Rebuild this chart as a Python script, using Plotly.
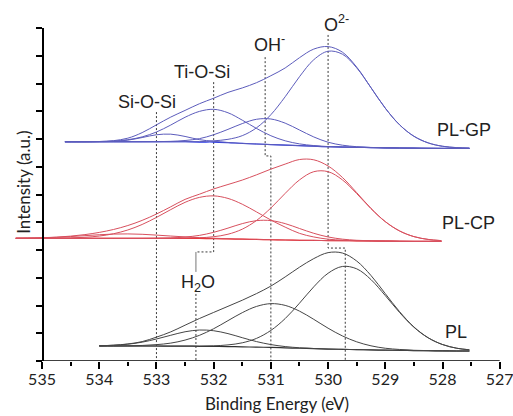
import plotly.graph_objects as go

# ---------------- PL-GP (blue) ----------------
GP_BE = [534.6, 534.25, 534.0, 533.75, 533.5, 533.25, 533.0, 532.75, 532.5, 532.25,
         532.0, 531.75, 531.5, 531.25, 531.0, 530.75, 530.5, 530.25, 530.0, 529.75,
         529.5, 529.25, 529.0, 528.75, 528.5, 528.25, 528.0, 527.75, 527.53]
GP_BASE = [7.90, 7.90, 7.90, 7.90, 7.90, 7.90, 7.90, 7.90, 7.90, 7.89,
           7.89, 7.87, 7.84, 7.82, 7.80, 7.78, 7.76, 7.74, 7.72, 7.71,
           7.70, 7.69, 7.68, 7.675, 7.67, 7.665, 7.66, 7.66, 7.66]
GP_SIOSI = [7.90, 7.90, 7.902, 7.915, 7.959, 8.052, 8.153, 8.174, 8.092, 7.977,
            7.916, 7.875, 7.84, 7.82, 7.80, 7.78, 7.76, 7.74, 7.72, 7.71,
            7.70, 7.69, 7.68, 7.675, 7.67, 7.665, 7.66, 7.66, 7.66]
GP_TIOSI = [7.90, 7.902, 7.909, 7.927, 7.975, 8.076, 8.252, 8.503, 8.783, 8.994,
            9.07, 8.946, 8.679, 8.379, 8.118, 7.935, 7.824, 7.763, 7.727, 7.712,
            7.70, 7.69, 7.68, 7.675, 7.67, 7.665, 7.66, 7.66, 7.66]
GP_OH = [7.90, 7.90, 7.90, 7.90, 7.90, 7.90, 7.904, 7.915, 7.946, 8.012,
         8.154, 8.347, 8.556, 8.711, 8.721, 8.571, 8.324, 8.074, 7.884, 7.777,
         7.723, 7.696, 7.681, 7.675, 7.67, 7.665, 7.66, 7.66, 7.66]
GP_O2 = [7.90, 7.90, 7.90, 7.90, 7.90, 7.90, 7.90, 7.90, 7.904, 7.904,
         7.934, 7.988, 8.12, 8.404, 8.876, 9.523, 10.244, 10.857, 11.163, 11.057,
         10.565, 9.848, 9.111, 8.511, 8.099, 7.859, 7.737, 7.687, 7.67]
GP_ENV = [7.90, 7.90, 7.91, 7.94, 8.03, 8.23, 8.51, 8.79, 9.03, 9.27,
          9.47, 9.68, 9.84, 10.03, 10.28, 10.56, 10.93, 11.24, 11.33, 11.13,
          10.59, 9.85, 9.11, 8.51, 8.10, 7.86, 7.74, 7.69, 7.67]

# ---------------- PL-CP (red) ----------------
CP_BE = [535.46, 535.25, 535.0, 534.75, 534.5, 534.25, 534.0, 533.75, 533.5, 533.25,
         533.0, 532.75, 532.5, 532.25, 532.0, 531.75, 531.5, 531.25, 531.0, 530.75,
         530.5, 530.25, 530.0, 529.75, 529.5, 529.25, 529.0, 528.75, 528.5, 528.25, 528.02]
CP_BASE = [4.42, 4.42, 4.42, 4.42, 4.42, 4.42, 4.42, 4.42, 4.42, 4.42,
           4.42, 4.42, 4.42, 4.415, 4.41, 4.40, 4.39, 4.38, 4.37, 4.36,
           4.35, 4.345, 4.34, 4.335, 4.33, 4.325, 4.32, 4.315, 4.31, 4.31, 4.31]
CP_SIOSI = [4.424, 4.428, 4.439, 4.457, 4.484, 4.517, 4.55, 4.574, 4.58, 4.566,
            4.537, 4.503, 4.472, 4.444, 4.424, 4.406, 4.392, 4.38, 4.37, 4.36,
            4.35, 4.345, 4.34, 4.335, 4.33, 4.325, 4.32, 4.315, 4.31, 4.31, 4.31]
CP_TIOSI = [4.42, 4.42, 4.422, 4.426, 4.436, 4.458, 4.503, 4.586, 4.722, 4.92,
            5.174, 5.456, 5.718, 5.895, 5.95, 5.859, 5.65, 5.371, 5.08, 4.824,
            4.60, 4.47, 4.39, 4.355, 4.338, 4.328, 4.322, 4.315, 4.31, 4.31, 4.31]
CP_OH = [4.42, 4.42, 4.42, 4.42, 4.42, 4.42, 4.42, 4.42, 4.42, 4.42,
         4.425, 4.436, 4.466, 4.526, 4.637, 4.789, 4.951, 5.058, 5.06, 4.951,
         4.775, 4.602, 4.47, 4.391, 4.35, 4.331, 4.322, 4.315, 4.31, 4.31, 4.31]
CP_O2 = [4.42, 4.42, 4.42, 4.42, 4.42, 4.42, 4.42, 4.42, 4.42, 4.42,
         4.42, 4.42, 4.428, 4.44, 4.479, 4.568, 4.751, 5.065, 5.514, 6.041,
         6.525, 6.822, 6.823, 6.527, 6.033, 5.489, 5.02, 4.686, 4.483, 4.381, 4.338]
CP_ENV = [4.424, 4.429, 4.441, 4.463, 4.50, 4.555, 4.633, 4.74, 4.882, 5.067,
          5.296, 5.557, 5.824, 6.01, 6.20, 6.36, 6.52, 6.71, 6.914, 7.096,
          7.26, 7.25, 7.027, 6.616, 6.067, 5.50, 5.024, 4.686, 4.483, 4.381, 4.338]

# ---------------- PL (black) ----------------
PL_BE = [534.0, 533.75, 533.5, 533.25, 533.0, 532.75, 532.5, 532.25, 532.0, 531.75,
         531.5, 531.25, 531.0, 530.75, 530.5, 530.25, 530.0, 529.75, 529.5, 529.25,
         529.0, 528.75, 528.5, 528.25, 528.0, 527.75, 527.53]
PL_BASE = [0.54, 0.54, 0.54, 0.54, 0.54, 0.535, 0.535, 0.53, 0.525, 0.52,
           0.51, 0.50, 0.49, 0.475, 0.46, 0.445, 0.43, 0.42, 0.41, 0.40,
           0.39, 0.385, 0.375, 0.37, 0.365, 0.36, 0.36]
PL_H2O = [0.549, 0.567, 0.606, 0.679, 0.793, 0.927, 1.053, 1.116, 1.091, 0.987,
          0.84, 0.699, 0.592, 0.52, 0.477, 0.45, 0.431, 0.42, 0.41, 0.40,
          0.39, 0.385, 0.375, 0.37, 0.365, 0.36, 0.36]
PL_OH = [0.541, 0.543, 0.548, 0.56, 0.59, 0.645, 0.754, 0.924, 1.163, 1.454,
         1.742, 1.967, 2.067, 2.004, 1.798, 1.501, 1.182, 0.904, 0.691, 0.547,
         0.46, 0.415, 0.386, 0.374, 0.366, 0.36, 0.36]
PL_O2 = [0.54, 0.54, 0.54, 0.54, 0.54, 0.535, 0.537, 0.537, 0.547, 0.58,
         0.656, 0.816, 1.102, 1.529, 2.083, 2.674, 3.162, 3.407, 3.322, 2.934,
         2.357, 1.747, 1.217, 0.834, 0.593, 0.46, 0.404]
PL_ENV = [0.55, 0.57, 0.614, 0.699, 0.86, 1.05, 1.29, 1.53, 1.751, 1.97,
          2.19, 2.43, 2.70, 3.03, 3.38, 3.69, 3.905, 3.891, 3.603, 3.081,
          2.427, 1.777, 1.228, 0.838, 0.594, 0.46, 0.404]

# ---------------- guide lines (BE, intensity) ----------------
GUIDE_SIOSI_X = [533.0, 533.0]
GUIDE_SIOSI_Y = [8.97, 0.0]
GUIDE_TIOSI_X = [532.0, 532.0, 532.31]
GUIDE_TIOSI_Y = [10.05, 3.93, 3.93]
GUIDE_H2O_SOLID_X = [532.31, 532.31]
GUIDE_H2O_SOLID_Y = [3.93, 3.21]
GUIDE_H2O_X = [532.31, 532.31]
GUIDE_H2O_Y = [2.56, 0.0]
GUIDE_OH_X = [531.1, 531.1, 531.0, 531.0]
GUIDE_OH_Y = [10.95, 7.39, 7.39, 0.0]
GUIDE_O2_X = [530.0, 530.0, 529.7, 529.7]
GUIDE_O2_Y = [11.75, 4.07, 4.07, 0.0]

X_TICKS = [535, 534, 533, 532, 531, 530, 529, 528, 527]
Y_TICKS = list(range(0, 13))
Y_MAX = 12.0

fig = go.Figure()


def add(x, y, color, width=1.0, shape="spline", dash=None):
    fig.add_trace(go.Scatter(
        x=x, y=y, mode="lines", showlegend=False, hoverinfo="skip",
        line=dict(color=color, width=width, shape=shape, dash=dash)))


# guide lines first (behind curves)
GC = "#3a3a3a"
add(GUIDE_SIOSI_X, GUIDE_SIOSI_Y, GC, 1, "linear", "2px,2px")
add(GUIDE_TIOSI_X, GUIDE_TIOSI_Y, GC, 1, "linear", "2px,2px")
add(GUIDE_H2O_SOLID_X, GUIDE_H2O_SOLID_Y, "#777777", 1, "linear")
add(GUIDE_H2O_X, GUIDE_H2O_Y, GC, 1, "linear", "2px,2px")
add(GUIDE_OH_X, GUIDE_OH_Y, GC, 1, "linear", "2px,2px")
add(GUIDE_O2_X, GUIDE_O2_Y, GC, 1, "linear", "2px,2px")

# blue
BLUE_C = "#5c5cbc"
add(GP_BE, GP_BASE, "#2a3ae6", 1.2)
for ys in (GP_SIOSI, GP_TIOSI, GP_OH, GP_O2, GP_ENV):
    add(GP_BE, ys, BLUE_C, 1.0)

# red
RED_C = "#d8505e"
add(CP_BE, CP_BASE, "#f02828", 1.2)
for ys in (CP_SIOSI, CP_TIOSI, CP_OH, CP_O2, CP_ENV):
    add(CP_BE, ys, RED_C, 1.0)

# black
BLK_C = "#454545"
add(PL_BE, PL_BASE, "#303030", 1.2)
for ys in (PL_H2O, PL_OH, PL_O2, PL_ENV):
    add(PL_BE, ys, BLK_C, 1.0)

LBL = dict(family="Liberation Sans, Arial, sans-serif", size=18, color="#222222")
AX = dict(family="Lato, Open Sans, sans-serif", size=17, color="#222222")
TK = dict(family="Lato, Open Sans, sans-serif", size=16, color="#222222")

labels = [
    (533.16, 9.32, "Si-O-Si"),
    (532.20, 10.41, "Ti-O-Si"),
    (531.03, 11.45, "OH<sup>-</sup>"),
    (529.86, 12.15, "O<sup>2-</sup>"),
    (532.28, 2.80, "H<sub>2</sub>O"),
    (527.62, 8.32, "PL-GP"),
    (527.55, 4.97, "PL-CP"),
    (527.76, 1.03, "PL"),
]
annotations = []
for bx, iy, txt in labels:
    annotations.append(dict(xref="x", yref="paper", x=bx, y=iy / Y_MAX, text=txt,
                            showarrow=False, font=LBL,
                            xanchor="center", yanchor="middle"))

annotations.append(dict(xref="paper", yref="paper", x=0.541, y=-0.127,
                        text="Binding Energy (eV)", showarrow=False, font=AX,
                        xanchor="center", yanchor="middle"))
annotations.append(dict(xref="paper", yref="paper", x=0.0206, y=0.535,
                        text="Intensity (a.u.)", showarrow=False, font=AX,
                        textangle=-90, xanchor="center", yanchor="middle"))

fig.update_layout(
    width=513, height=416,
    margin=dict(l=14, r=13, t=28, b=55),
    paper_bgcolor="white", plot_bgcolor="white",
    annotations=annotations,
    shapes=[dict(type="line", xref="x", yref="y", x0=535, x1=527, y0=0, y1=0,
                 line=dict(color="black", width=1.5))],
    xaxis=dict(range=[535.49, 526.995], tickvals=X_TICKS,
               ticktext=[str(v) for v in X_TICKS],
               ticks="outside", ticklen=7, tickwidth=1.5, tickcolor="black",
               showline=False, showgrid=False, zeroline=False, automargin=False,
               ticklabeloverflow="allow", ticklabelstandoff=-3, tickfont=TK,
               minor=dict(ticks="outside", ticklen=4, tickwidth=1.5,
                          tickcolor="black", dtick=0.5, tick0=527, showgrid=False)),
    yaxis=dict(range=[0, Y_MAX], tickvals=Y_TICKS, showticklabels=False,
               anchor="free", position=0.5 / 8.49,
               ticks="outside", ticklen=6, tickwidth=1.5, tickcolor="black",
               showline=True, linecolor="black", linewidth=1.5,
               showgrid=False, zeroline=False, automargin=False),
)

fig.write_html("out.html", config={"displayModeBar": False},
               post_script="document.body.style.margin='0px';")
